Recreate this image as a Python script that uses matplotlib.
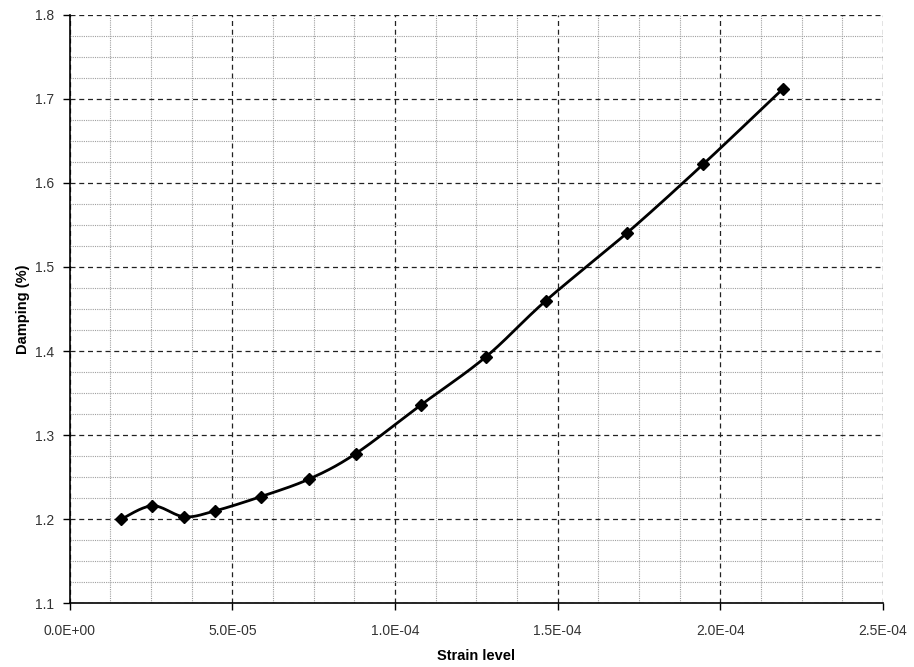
import numpy as np
import matplotlib
matplotlib.use("Agg")
import matplotlib.pyplot as plt
from matplotlib.ticker import MultipleLocator, FormatStrFormatter, FuncFormatter

# =========================
# DATA
# =========================
strain = [1.58e-05, 2.54e-05, 3.52e-05, 4.47e-05, 5.88e-05, 7.37e-05, 8.79e-05,
          1.080e-04, 1.279e-04, 1.464e-04, 1.712e-04, 1.947e-04, 2.193e-04]
damping = [1.200, 1.216, 1.203, 1.210, 1.227, 1.248, 1.278,
           1.336, 1.393, 1.460, 1.540, 1.622, 1.712]

x_ticks = [0.0, 5e-05, 1e-04, 1.5e-04, 2e-04, 2.5e-04]
y_ticks = [1.1, 1.2, 1.3, 1.4, 1.5, 1.6, 1.7, 1.8]

xlim = (0.0, 2.5e-04)
ylim = (1.1, 1.8)


# =========================
# SMOOTHED LINE (excel style bezier)
# =========================
def smooth_curve(xs, ys, xr, yr, n=30):
    # work in normalised coords so both axes weigh the same
    px = (np.asarray(xs) - xr[0]) / (xr[1] - xr[0])
    py = (np.asarray(ys) - yr[0]) / (yr[1] - yr[0])
    pts = np.column_stack([px, py])
    out = []
    t = np.linspace(0, 1, n)
    for i in range(len(pts) - 1):
        p0 = pts[i - 1] if i > 0 else pts[i]
        p1 = pts[i]
        p2 = pts[i + 1]
        p3 = pts[i + 2] if i + 2 < len(pts) else pts[i + 1]
        c1 = p1 + (p2 - p0) / 6.0
        c2 = p2 - (p3 - p1) / 6.0
        seg = ((1 - t) ** 3)[:, None] * p1 + (3 * (1 - t) ** 2 * t)[:, None] * c1 \
            + (3 * (1 - t) * t ** 2)[:, None] * c2 + (t ** 3)[:, None] * p2
        out.append(seg if i == 0 else seg[1:])
    out = np.vstack(out)
    sx = out[:, 0] * (xr[1] - xr[0]) + xr[0]
    sy = out[:, 1] * (yr[1] - yr[0]) + yr[0]
    return sx, sy


plt.rcParams['font.family'] = ['Liberation Sans', 'DejaVu Sans']

fig = plt.figure(figsize=(9.14, 6.67), dpi=100)
ax = fig.add_axes([0.0763, 0.0954, 0.8897, 0.8826])

sx, sy = smooth_curve(strain, damping, xlim, ylim)
ax.plot(sx, sy, color="black", lw=2.0, zorder=3)
ax.plot(strain, damping, linestyle="none", marker="D", ms=6,
        color="black", zorder=4)

ax.set_xlim(*xlim)
ax.set_ylim(*ylim)
ax.set_xticks(x_ticks)
ax.set_yticks(y_ticks)
ax.xaxis.set_minor_locator(MultipleLocator(1.25e-05))
ax.yaxis.set_minor_locator(MultipleLocator(0.025))
ax.xaxis.set_major_formatter(FuncFormatter(lambda v, p: "{:.1E}".format(v)))
ax.yaxis.set_major_formatter(FormatStrFormatter("%.1f"))

ax.grid(which="major", linestyle=(0, (4, 3)), color="#222222", lw=0.9)
ax.grid(which="minor", linestyle=(0, (1, 1)), color="#a0a0a0", lw=0.8)
ax.set_axisbelow(True)

ax.spines["top"].set_visible(False)
ax.spines["right"].set_visible(False)
ax.spines["left"].set_linewidth(1.2)
ax.spines["bottom"].set_linewidth(1.2)

ax.tick_params(which="major", direction="out", length=5, width=1,
               labelsize=10, labelcolor="#333333", pad=6)
ax.tick_params(axis="x", which="major", pad=10)
ax.tick_params(which="minor", length=0)

ax.set_xlabel("Strain level", fontsize=10.5, fontweight="bold", labelpad=8)
ax.set_ylabel("Damping (%)", fontsize=10.5, fontweight="bold", labelpad=4)

fig.savefig("out.png", dpi=100)
